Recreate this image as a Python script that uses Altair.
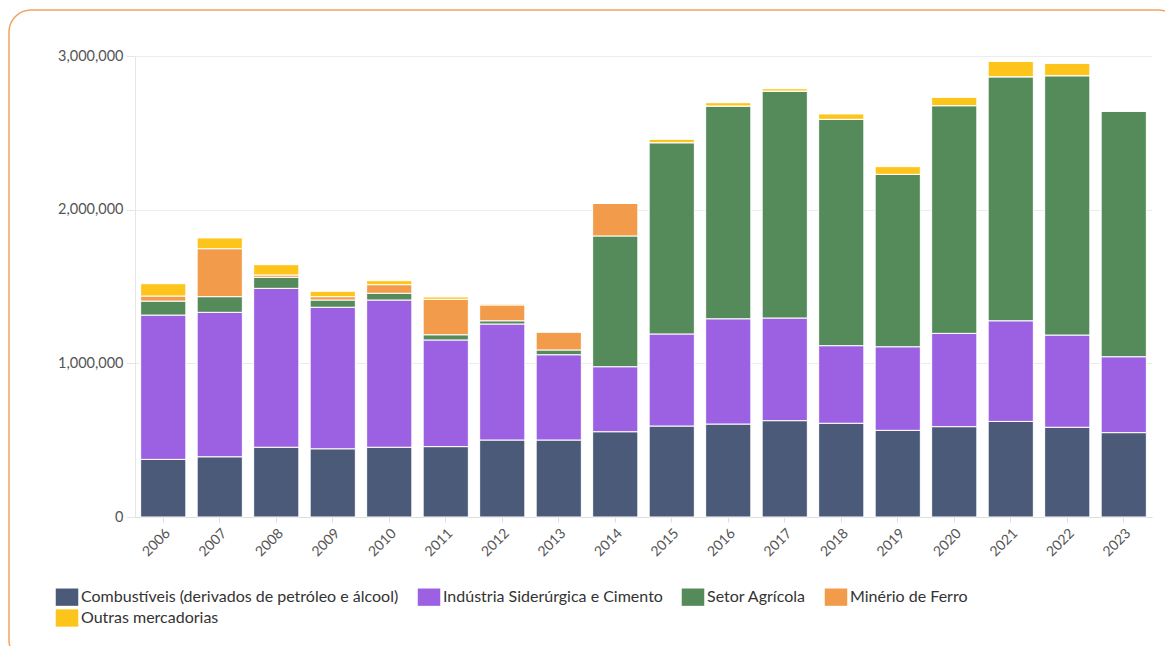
import altair as alt
import pandas as pd

years = [str(y) for y in range(2006, 2024)]

categories = [
    "Combustíveis (derivados de petróleo e álcool)",
    "Indústria Siderúrgica e Cimento",
    "Setor Agrícola",
    "Minério de Ferro",
    "Outras mercadorias",
]
colors = ["#4b5a79", "#9c61e3", "#558b5a", "#f29b4b", "#fdc51b"]

combustiveis = [375000, 392000, 454000, 444000, 454000, 458000, 501000, 501000, 555000,
                592000, 605000, 627000, 610000, 564000, 588000, 622000, 584000, 549000]
siderurgica = [939000, 940000, 1034000, 921000, 958000, 694000, 755000, 555000, 423000,
               599000, 685000, 668000, 505000, 544000, 607000, 655000, 600000, 494000]
agricola = [91000, 102000, 72000, 47000, 44000, 34000, 21000, 31000, 851000,
            1245000, 1385000, 1477000, 1473000, 1122000, 1482000, 1588000, 1688000, 1599000]
minerio = [33000, 312000, 15000, 22000, 56000, 231000, 103000, 117000, 212000,
           0, 0, 0, 0, 0, 0, 0, 0, 0]
outras = [80000, 70000, 67000, 35000, 26000, 15000, 6000, 0, 0,
          22000, 21000, 15000, 35000, 50000, 54000, 100000, 80000, 0]

series = [combustiveis, siderurgica, agricola, minerio, outras]

rows = []
for ci, (cat, vals) in enumerate(zip(categories, series)):
    for y, v in zip(years, vals):
        rows.append({"ano": y, "categoria": cat, "valor": v, "idx": ci})
df = pd.DataFrame(rows)

bars = alt.Chart(df).mark_bar(stroke="white", strokeWidth=1).encode(
    x=alt.X("ano:N", sort=years, title=None,
            scale=alt.Scale(paddingInner=0.2, paddingOuter=0.1),
            axis=alt.Axis(labelAngle=-45, labelFontSize=14, labelColor="#555555",
                          tickSize=5, tickColor="#dddddd", domainColor="#dddddd",
                          labelPadding=4)),
    y=alt.Y("valor:Q", title=None, stack="zero",
            scale=alt.Scale(domain=[0, 3000000]),
            axis=alt.Axis(values=[0, 1000000, 2000000, 3000000], format=",d",
                          labelFontSize=14.5, labelColor="#555555", tickSize=9,
                          tickColor="#e6e6e6", domainColor="#e6e6e6",
                          gridColor="#ececec", labelPadding=3)),
    color=alt.Color("categoria:N",
                    scale=alt.Scale(domain=categories, range=colors),
                    legend=alt.Legend(title=None, orient="none", legendX=-77, legendY=532,
                                      direction="horizontal", columns=4,
                                      symbolType="M-1.3,-1H1.3V1H-1.3Z", symbolSize=300,
                                      symbolStrokeWidth=0, labelFontSize=16, labelColor="#333333",
                                      columnPadding=18, rowPadding=3, labelOffset=5,
                                      labelLimit=450)),
    order=alt.Order("idx:Q", sort="ascending"),
)

frame = alt.Chart(alt.Data(values=[{"a": 1}])).mark_rect(
    fillOpacity=0, stroke="#f4a35e", strokeWidth=1.5, cornerRadius=22
).encode(
    x=alt.value(-126), x2=alt.value(1045), y=alt.value(-46), y2=alt.value(606)
)

chart = alt.layer(bars, frame).properties(
    width=1017, height=461,
    autosize=alt.AutoSizeParams(type="none"),
    padding={"left": 127, "top": 48, "right": 13, "bottom": 129},
).configure(font="Lato").configure_view(stroke=None)

chart.save("out.html", embed_options={"renderer": "svg", "actions": False})
